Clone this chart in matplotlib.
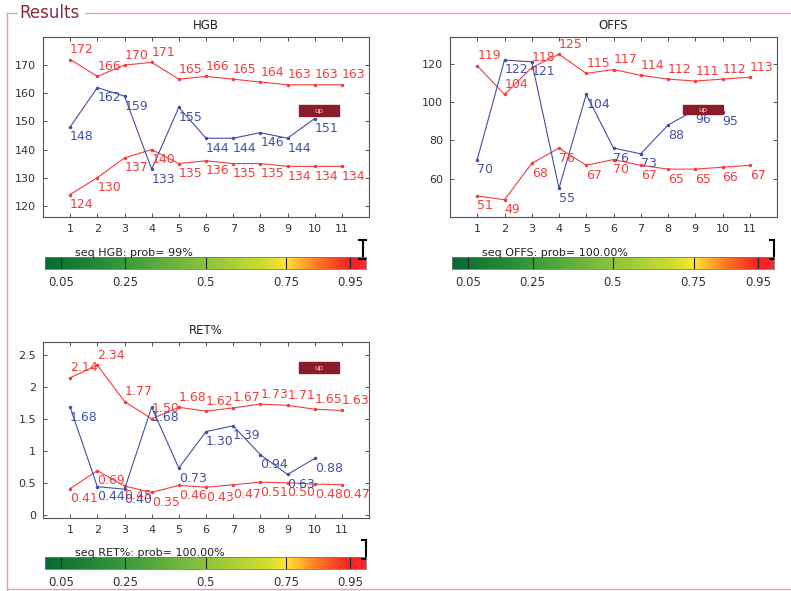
import matplotlib
matplotlib.use("Agg")
from matplotlib import pyplot as plt
from matplotlib.colors import LinearSegmentedColormap
import numpy as np

plt.rcParams['font.family'] = ['DejaVu Sans']

# sample index on the x axis
seq = [1, 2, 3, 4, 5, 6, 7, 8, 9, 10, 11]
seq_blue = seq[:10]

# HGB: upper limit, measured values, lower limit
hgb_hi = [172, 166, 170, 171, 165, 166, 165, 164, 163, 163, 163]
hgb_val = [148, 162, 159, 133, 155, 144, 144, 146, 144, 151]
hgb_lo = [124, 130, 137, 140, 135, 136, 135, 135, 134, 134, 134]

# OFFS
offs_hi = [119, 104, 118, 125, 115, 117, 114, 112, 111, 112, 113]
offs_val = [70, 122, 121, 55, 104, 76, 73, 88, 96, 95]
offs_lo = [51, 49, 68, 76, 67, 70, 67, 65, 65, 66, 67]

# RET%
ret_hi = [2.14, 2.34, 1.77, 1.50, 1.68, 1.62, 1.67, 1.73, 1.71, 1.65, 1.63]
ret_val = [1.68, 0.44, 0.40, 1.68, 0.73, 1.30, 1.39, 0.94, 0.63, 0.88]
ret_lo = [0.41, 0.69, 0.45, 0.35, 0.46, 0.43, 0.47, 0.51, 0.50, 0.48, 0.47]

# probabilities shown on the colour bars
prob_hgb = 0.99
prob_offs = 1.0
prob_ret = 1.0
prob_txt_hgb = "seq HGB: prob= 99%"
prob_txt_offs = "seq OFFS: prob= 100.00%"
prob_txt_ret = "seq RET%: prob= 100.00%"

bar_ticks = [0.05, 0.25, 0.5, 0.75, 0.95]
bar_tick_labels = ["0.05", "0.25", "0.5", "0.75", "0.95"]

RED = '#f53c3c'
BLUE = '#4050a8'
W, H = 791, 591

fig = plt.figure(figsize=(W / 100, H / 100), dpi=100)

# background layer in pixel coordinates for the group box
bg = fig.add_axes([0, 0, 1, 1])
bg.set_xlim(0, W)
bg.set_ylim(H, 0)
bg.axis('off')
frame_col = '#e3a3ad'
bg.plot([7, 17], [13, 13], color=frame_col, lw=1)
bg.plot([85, 790], [13, 13], color=frame_col, lw=1)
bg.plot([7, 7], [13, 591], color=frame_col, lw=1)
bg.plot([7, 790], [589, 589], color=frame_col, lw=1)
bg.text(19, 18, "Results", color='#8b2a3a', fontsize=12, va='baseline', ha='left')


def px_axes(l, t, r, b):
    return fig.add_axes([l / W, 1 - b / H, (r - l) / W, (b - t) / H])


cmap = LinearSegmentedColormap.from_list('prob', [
    (0.0, '#066a32'), (0.25, '#3a9a3c'), (0.5, '#8cc43c'), (0.7, '#d6de30'),
    (0.75, '#ffe535'), (0.85, '#ff7a22'), (0.95, '#f02424'), (1.0, '#ff2632')])


def draw_panel(ax, title, hi, val, lo, fmt, ylim, yticks, yticklabels, box):
    ax.plot(seq, hi, '.-', color=RED, lw=0.8, ms=3)
    ax.plot(seq, lo, '.-', color=RED, lw=0.8, ms=3)
    ax.plot(seq_blue, val, '.-', color=BLUE, lw=0.8, ms=3)
    for x, y in zip(seq, hi):
        ax.annotate(fmt % y, (x, y), xytext=(0, 2.5), textcoords='offset points',
                    color=RED, fontsize=9, ha='left', va='bottom')
    for x, y in zip(seq, lo):
        ax.annotate(fmt % y, (x, y), xytext=(0, -2.5), textcoords='offset points',
                    color=RED, fontsize=9, ha='left', va='top')
    for x, y in zip(seq_blue, val):
        ax.annotate(fmt % y, (x, y), xytext=(0, -2.5), textcoords='offset points',
                    color=BLUE, fontsize=9, ha='left', va='top')
    ax.set_xlim(0, 12)
    ax.set_ylim(*ylim)
    ax.set_xticks(seq)
    ax.set_yticks(yticks)
    ax.set_yticklabels(yticklabels)
    ax.tick_params(direction='in', length=3, width=0.6, labelsize=8,
                   colors='#333333', top=True, right=True, pad=5)
    for s in ax.spines.values():
        s.set_color('#555555')
        s.set_linewidth(0.8)
    ax.set_title(title, fontsize=8.5, color='#222222', pad=6)
    # the "up" flag
    bx0, by0, bx1, by1 = box
    ax.add_patch(plt.Rectangle((bx0, by0), bx1 - bx0, by1 - by0, transform=ax.transAxes,
                               facecolor='#8b1c2c', edgecolor='#8b1c2c', zorder=5))
    ax.text((bx0 + bx1) / 2, (by0 + by1) / 2, "up", transform=ax.transAxes,
            color='#f0d0d0', fontsize=5, ha='center', va='center', zorder=6)


def draw_bar(cax, prob, text):
    grad = np.linspace(0, 1, 256).reshape(1, -1)
    cax.imshow(grad, cmap=cmap, aspect='auto', extent=[0, 1, 0, 1])
    cax.set_xlim(0, 1)
    cax.set_ylim(0, 1)
    for t in bar_ticks:
        cax.plot([t, t], [0, 1], color='#222222', lw=0.8)
    cax.set_yticks([])
    cax.set_xticks(bar_ticks)
    cax.set_xticklabels(bar_tick_labels)
    cax.tick_params(length=0, labelsize=8.5, colors='#333333', pad=5)
    for s in cax.spines.values():
        s.set_color('#777777')
        s.set_linewidth(0.6)
    cax.text(0.093, 0.95, text, transform=cax.transAxes, fontsize=8,
             color='#222222', ha='left', va='bottom')
    # marker showing the probability
    cap = 0.012
    cax.plot([prob, prob], [0.85, 2.4], color='black', lw=1.5, clip_on=False)
    for yy in (0.85, 2.4):
        cax.plot([prob - cap, min(prob + cap, 1.0)], [yy, yy], color='black',
                 lw=1.5, clip_on=False)


ax1 = px_axes(43, 37, 369, 217)
draw_panel(ax1, "HGB", hgb_hi, hgb_val, hgb_lo, "%d", (116, 180),
           [120, 130, 140, 150, 160, 170], ["120", "130", "140", "150", "160", "170"],
           (0.785, 0.561, 0.908, 0.622))
draw_bar(px_axes(45, 257, 366, 269), prob_hgb, prob_txt_hgb)

ax2 = px_axes(450, 37, 777, 217)
draw_panel(ax2, "OFFS", offs_hi, offs_val, offs_lo, "%d", (40, 134),
           [60, 80, 100, 120], ["60", "80", "100", "120"],
           (0.713, 0.572, 0.835, 0.622))
draw_bar(px_axes(452, 257, 774, 269), prob_offs, prob_txt_offs)

ax3 = px_axes(43, 342, 369, 518)
draw_panel(ax3, "RET%", ret_hi, ret_val, ret_lo, "%.2f", (-0.05, 2.7),
           [0, 0.5, 1, 1.5, 2, 2.5], ["0", "0.5", "1", "1.5", "2", "2.5"],
           (0.785, 0.824, 0.908, 0.886))
draw_bar(px_axes(45, 557, 366, 569), prob_ret, prob_txt_ret)

fig.savefig("out.png", dpi=100)
